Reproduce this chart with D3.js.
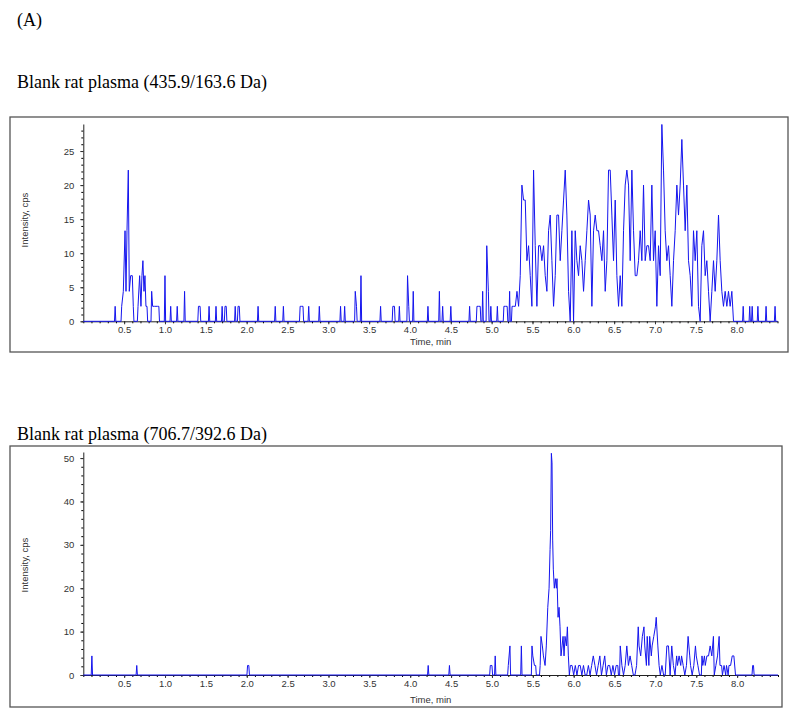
<!DOCTYPE html>
<html>
<head>
<meta charset="utf-8">
<script src="https://cdn.jsdelivr.net/npm/d3@7"></script>
<style>
  body { margin: 0; background: #fff; }
  svg { display: block; }
</style>
</head>
<body>
<div id="chart"></div>
<script>
// panel titles
const figureLabel = "(A)"
const titles = ["Blank rat plasma (435.9/163.6 Da)", "Blank rat plasma (706.7/392.6 Da)"]

// x / y tick labels
const xTicks = [0.5, 1.0, 1.5, 2.0, 2.5, 3.0, 3.5, 4.0, 4.5, 5.0, 5.5, 6.0, 6.5, 7.0, 7.5, 8.0]
const topYTicks = [0, 5, 10, 15, 20, 25]
const bottomYTicks = [0, 10, 20, 30, 40, 50]

// top trace: isolated spikes [time, cps]
const topSpikes = [
  [0.39, 2.2], [0.47, 2.2], [0.49, 4.4], [0.511, 13.3], [0.523, 4.4], [0.535, 13.3], [0.551, 22.2],
  [0.563, 4.4], [0.58, 6.7], [0.6, 6.7], [0.612, 2.2], [0.67, 2.2], [0.69, 6.7], [0.706, 2.2],
  [0.718, 6.7], [0.73, 8.9], [0.743, 4.4], [0.755, 6.7], [0.767, 2.2], [0.78, 2.2], [0.837, 4.4],
  [0.849, 2.2], [0.87, 2.2], [0.89, 2.2], [0.91, 2.2], [0.925, 2.2], [1.0, 6.7], [1.07, 2.2],
  [1.15, 2.2], [1.24, 4.4], [1.41, 2.2], [1.43, 2.2], [1.54, 2.2], [1.625, 2.2], [1.7, 2.2],
  [1.735, 2.2], [1.75, 2.2], [1.86, 2.2], [1.895, 2.2], [1.91, 2.2], [2.14, 2.2], [2.35, 2.2],
  [2.45, 2.2], [2.655, 2.2], [2.67, 2.2], [2.69, 2.2], [2.76, 2.2], [2.89, 2.2], [3.15, 2.2],
  [3.2, 2.2], [3.33, 4.4], [3.345, 2.2], [3.4, 6.7], [3.64, 2.2], [3.79, 2.2], [3.81, 2.2],
  [3.87, 2.2], [3.97, 6.7], [3.985, 2.2], [4.04, 4.4], [4.22, 2.2], [4.36, 4.4], [4.4, 2.2],
  [4.5, 2.2], [4.73, 2.2], [4.82, 2.2], [4.84, 2.2], [4.86, 2.2], [4.89, 4.4], [4.94, 11.1],
  [4.96, 4.4], [4.99, 2.2], [5.07, 2.2], [5.15, 2.2], [5.17, 2.2], [5.19, 2.2], [5.22, 4.4],
  [5.25, 2.2], [5.27, 2.2], [5.29, 2.2], [5.31, 4.4], [5.33, 2.2],
  [8.08, 2.2], [8.16, 2.2], [8.19, 2.2], [8.26, 2.2], [8.36, 2.2], [8.47, 2.2]
]

// top trace: dense part, one reading per scan from 5.35 min
const topDenseStart = 5.35
const topDenseStep = 0.0204
const topDense = [
  6.7, 20.0, 17.8, 17.8, 8.9, 11.1, 6.7, 2.2, 22.2, 11.1, 2.2, 11.1, 11.1, 8.9, 11.1, 6.7, 4.4,
  13.3, 15.6, 8.9, 2.2, 6.7, 15.6, 15.6, 8.9, 13.3, 17.8, 22.2, 15.6, 4.4, 0, 13.3, 0, 13.3,
  8.9, 6.7, 11.1, 8.9, 4.4, 8.9, 13.3, 17.8, 15.6, 2.2, 13.3, 15.6, 13.3, 13.3, 11.1, 8.9,
  13.3, 4.4, 8.9, 22.2, 22.2, 15.6, 8.9, 17.8, 6.7, 2.2, 6.7, 2.2, 13.3, 20.0, 22.2, 20.0,
  8.9, 22.2, 13.3, 6.7, 6.7, 8.9, 13.3, 8.9, 20.0, 8.9, 11.1, 11.1, 8.9, 20.0, 8.9, 13.3,
  2.2, 11.1, 6.7, 28.9, 22.2, 13.3, 8.9, 11.1, 6.7, 2.2, 8.9, 13.3, 20.0, 15.6, 20.0, 26.7,
  20.0, 13.3, 20.0, 8.9, 6.7, 2.2, 13.3, 8.9, 13.3, 2.2, 0, 11.1, 13.3, 6.7, 8.9, 4.4, 0,
  4.4, 8.9, 4.4, 8.9, 15.6, 8.9, 4.4, 2.2, 4.4, 2.2, 4.4, 2.2, 4.4, 0
]

// bottom trace [time, cps]
const bottomPoints = [
  [0.105, 4.4], [0.654, 2.2], [2.01, 2.2], [2.025, 2.2], [4.22, 2.2], [4.48, 2.2],
  [4.98, 2.2], [5.0, 2.2], [5.04, 4.4], [5.2, 2.2], [5.22, 6.7], [5.36, 6.7], [5.49, 6.7],
  [5.5, 4.4], [5.52, 2.2], [5.535, 2.2], [5.59, 2.2], [5.6, 8.9], [5.617, 6.7], [5.63, 4.4],
  [5.65, 2.2], [5.665, 6.7], [5.683, 15.6], [5.699, 20.0], [5.711, 28.9], [5.718, 33.3],
  [5.727, 51.1], [5.735, 48.9], [5.743, 31.1], [5.751, 24.4], [5.763, 20.0], [5.776, 22.2],
  [5.788, 20.0], [5.796, 22.2], [5.809, 13.3], [5.821, 15.6], [5.833, 11.1], [5.845, 4.4],
  [5.858, 6.7], [5.87, 8.9], [5.882, 4.4], [5.894, 8.9], [5.911, 6.7], [5.923, 11.1],
  [5.935, 4.4], [5.947, 0], [5.96, 2.2], [5.98, 2.2], [6.0, 0], [6.02, 2.2], [6.04, 0],
  [6.06, 2.2], [6.08, 2.2], [6.1, 0], [6.12, 2.2], [6.14, 0], [6.16, 0], [6.18, 2.2], [6.2, 0],
  [6.22, 2.2], [6.24, 4.4], [6.26, 2.2], [6.28, 0], [6.3, 2.2], [6.32, 4.4], [6.34, 0],
  [6.36, 2.2], [6.38, 4.4], [6.4, 0], [6.42, 2.2], [6.44, 2.2], [6.46, 0], [6.48, 2.2], [6.5, 0],
  [6.52, 2.2], [6.54, 2.2], [6.57, 6.7], [6.59, 2.2], [6.61, 0], [6.63, 2.2], [6.65, 6.7],
  [6.67, 2.2], [6.69, 4.4], [6.71, 2.2], [6.73, 0], [6.75, 0], [6.77, 2.2], [6.79, 11.1],
  [6.8, 6.7], [6.82, 4.4], [6.84, 8.9], [6.86, 11.1], [6.87, 6.7], [6.89, 2.2], [6.9, 8.9],
  [6.92, 2.2], [6.93, 8.9], [6.95, 4.4], [6.96, 6.7], [6.98, 8.9], [7.0, 11.1], [7.01, 13.3],
  [7.03, 6.7], [7.045, 2.2], [7.06, 0], [7.08, 2.2], [7.1, 0], [7.12, 0], [7.14, 6.7],
  [7.16, 6.7], [7.18, 0], [7.2, 6.7], [7.22, 2.2], [7.24, 0], [7.26, 4.4], [7.27, 2.2],
  [7.29, 4.4], [7.31, 2.2], [7.32, 4.4], [7.34, 2.2], [7.36, 0], [7.38, 2.2], [7.4, 8.9],
  [7.42, 4.4], [7.43, 2.2], [7.45, 0], [7.47, 2.2], [7.49, 6.7], [7.5, 4.4], [7.52, 2.2],
  [7.54, 0], [7.57, 4.4], [7.58, 2.2], [7.6, 4.4], [7.61, 2.2], [7.63, 4.4], [7.65, 4.4],
  [7.67, 6.7], [7.69, 4.4], [7.71, 8.9], [7.72, 0], [7.74, 2.2], [7.76, 4.4], [7.78, 8.9],
  [7.79, 2.2], [7.81, 2.2], [7.82, 0], [7.84, 2.2], [7.86, 0], [7.87, 2.2], [7.89, 0],
  [7.9, 2.2], [7.92, 2.2], [7.94, 4.4], [7.96, 4.4], [7.98, 0], [8.19, 2.2], [8.2, 2.2]
]

const width = 800
const height = 720
const svg = d3.select("#chart").append("svg").attr("width", width).attr("height", height)

// turn readings into a trace that sits on the zero baseline between spikes
function buildTrace(points, xMax) {
  const sorted = points.slice().sort((a, b) => a[0] - b[0])
  const out = [[0, 0]]
  let prev = null
  sorted.forEach((p) => {
    if (prev === null || p[0] - prev[0] > 0.025) {
      if (prev !== null && prev[1] !== 0) out.push([prev[0] + 0.008, 0])
      if (p[1] !== 0) out.push([p[0] - 0.008, 0])
    }
    out.push(p)
    prev = p
  })
  if (prev && prev[1] !== 0) out.push([prev[0] + 0.008, 0])
  out.push([xMax, 0])
  return out
}

const topPoints = topSpikes.concat(topDense.map((v, i) => [topDenseStart + i * topDenseStep, v]))

const panels = [
  {
    title: titles[0], titleY: 88,
    frame: { x: 10, y: 117, w: 778, h: 235 },
    xRange: [83.3, 777.5], yRange: [321.3, 124], yMax: 28.97,
    yTicks: topYTicks, yMinorStep: 1, xLabelY: 345, yLabelY: 220,
    points: topPoints
  },
  {
    title: titles[1], titleY: 440,
    frame: { x: 10, y: 446, w: 772, h: 261 },
    xRange: [83.3, 778], yRange: [675, 452], yMax: 51.4,
    yTicks: bottomYTicks, yMinorStep: 2, xLabelY: 703, yLabelY: 565,
    points: bottomPoints
  }
]

svg.append("text")
  .attr("x", 17).attr("y", 26)
  .attr("font-family", "Liberation Serif, Times New Roman, serif")
  .attr("font-size", 18)
  .text(figureLabel)

panels.forEach((p) => {
  svg.append("text")
    .attr("x", 17).attr("y", p.titleY)
    .attr("font-family", "Liberation Serif, Times New Roman, serif")
    .attr("font-size", 18)
    .text(p.title)

  svg.append("rect")
    .attr("x", p.frame.x).attr("y", p.frame.y)
    .attr("width", p.frame.w).attr("height", p.frame.h)
    .attr("fill", "none").attr("stroke", "#555").attr("stroke-width", 1.3)

  const x = d3.scaleLinear().domain([0, 8.5]).range(p.xRange)
  const y = d3.scaleLinear().domain([0, p.yMax]).range(p.yRange)
  const y0 = p.yRange[0]

  // minor ticks
  svg.append("g")
    .attr("transform", `translate(0,${y0})`)
    .call(d3.axisBottom(x).ticks(85).tickSize(2).tickSizeOuter(0).tickFormat(""))
    .call((g) => g.select(".domain").remove())
  svg.append("g")
    .attr("transform", `translate(${p.xRange[0]},0)`)
    .call(d3.axisLeft(y).tickValues(d3.range(0, p.yMax, p.yMinorStep)).tickSize(2).tickFormat(""))
    .call((g) => g.select(".domain").remove())

  const xAxis = svg.append("g")
    .attr("transform", `translate(0,${y0})`)
    .call(d3.axisBottom(x).tickValues(xTicks).tickSize(3).tickSizeOuter(0).tickPadding(2).tickFormat(d3.format(".1f")))
  const yAxis = svg.append("g")
    .attr("transform", `translate(${p.xRange[0]},0)`)
    .call(d3.axisLeft(y).tickValues(p.yTicks).tickSize(3).tickSizeOuter(0).tickPadding(6))

  ;[xAxis, yAxis].forEach((g) => {
    g.selectAll("text")
      .attr("font-family", "Liberation Sans, Arial, sans-serif")
      .attr("font-size", 9.5)
      .attr("fill", "#333")
    g.selectAll("line").attr("stroke", "#333")
    g.select(".domain").attr("stroke", "#222")
  })

  svg.append("text")
    .attr("x", 410).attr("y", p.xLabelY)
    .attr("font-family", "Liberation Sans, Arial, sans-serif")
    .attr("font-size", 9.5).attr("fill", "#333")
    .text("Time, min")

  svg.append("text")
    .attr("transform", `translate(28,${p.yLabelY}) rotate(-90)`)
    .attr("text-anchor", "middle")
    .attr("font-family", "Liberation Sans, Arial, sans-serif")
    .attr("font-size", 9.5).attr("fill", "#333")
    .text("Intensity, cps")

  const line = d3.line().x((d) => x(d[0])).y((d) => y(d[1]))
  svg.append("path")
    .datum(buildTrace(p.points, 8.5))
    .attr("d", line)
    .attr("fill", "none")
    .attr("stroke", "#1515ee")
    .attr("stroke-width", 1)
})
</script>
</body>
</html>
